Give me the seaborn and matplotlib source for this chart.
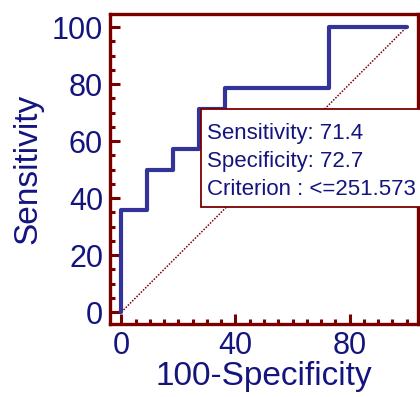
import matplotlib
matplotlib.use("Agg")
import matplotlib.pyplot as plt
import seaborn as sns
import pandas as pd
from matplotlib.patches import Rectangle
from matplotlib.ticker import MultipleLocator

sns.set_style("white")
plt.rcParams['font.family'] = ['Liberation Sans', 'DejaVu Sans']

# ROC corner points (100-Specificity, Sensitivity)
fpr = [0, 0, 9.1, 18.2, 27.3, 36.4, 72.7, 100]
tpr = [0, 35.7, 50.0, 57.1, 71.4, 78.6, 100, 100]
diag = [0, 100]
box_lines = ["Sensitivity: 71.4", "Specificity: 72.7", "Criterion : <=251.573"]
ticks = [0, 40, 80]
yticks = [0, 20, 40, 60, 80, 100]

W, H = 420, 397
fig = plt.figure(figsize=(W / 100, H / 100), dpi=100)
ax = fig.add_axes([110 / W, 1 - 324 / H, 308 / W, 310 / H])

maroon = '#7a0000'
navy = '#14147f'
blue = '#333399'

df = pd.DataFrame({"fpr": fpr, "tpr": tpr})
sns.lineplot(data=pd.DataFrame({"x": diag, "y": diag}), x="x", y="y", ax=ax,
             color=maroon, linestyle=(0, (1, 1)), linewidth=1.1, estimator=None)
sns.lineplot(data=df, x="fpr", y="tpr", ax=ax, sort=False, estimator=None,
             color=blue, linewidth=3.0, drawstyle='steps-post', zorder=3)

ax.set_xlim(-4, 104)
ax.set_ylim(-4.2, 104.6)
ax.set_xticks(ticks)
ax.set_yticks(yticks)
ax.xaxis.set_minor_locator(MultipleLocator(5))
ax.yaxis.set_minor_locator(MultipleLocator(5))
ax.tick_params(which='both', direction='in', color=maroon, width=2.2,
               top=False, right=False, bottom=True, left=True)
ax.tick_params(which='major', length=7, labelsize=22, labelcolor=navy, pad=5)
ax.tick_params(which='minor', length=3.5)
for s in ax.spines.values():
    s.set_color(maroon)
    s.set_linewidth(2.4)
    s.set_visible(True)

ax.set_xlabel("100-Specificity", fontsize=24, color=navy, labelpad=0)
ax.set_ylabel("Sensitivity", fontsize=24, color=navy, labelpad=6)

# make the unlabeled 20/60/100 x ticks look major
for t in ax.xaxis.get_minor_ticks():
    loc = t.get_loc()
    if abs(loc % 20) < 1e-6 and loc not in ticks:
        t.tick1line.set_markersize(7)

# annotation box
bx0, by0, bx1, by1 = 201, 109, 426, 207
rect = Rectangle((bx0 / W, 1 - by1 / H), (bx1 - bx0) / W, (by1 - by0) / H,
                 transform=fig.transFigure, facecolor='white', edgecolor=maroon,
                 linewidth=1.3, zorder=10)
fig.patches.append(rect)
for i, line in enumerate(box_lines):
    fig.text(207 / W, 1 - (139 + 28 * i) / H, line, fontsize=16, color=navy,
             ha='left', va='baseline', zorder=11)

fig.savefig("out.png", dpi=100)
